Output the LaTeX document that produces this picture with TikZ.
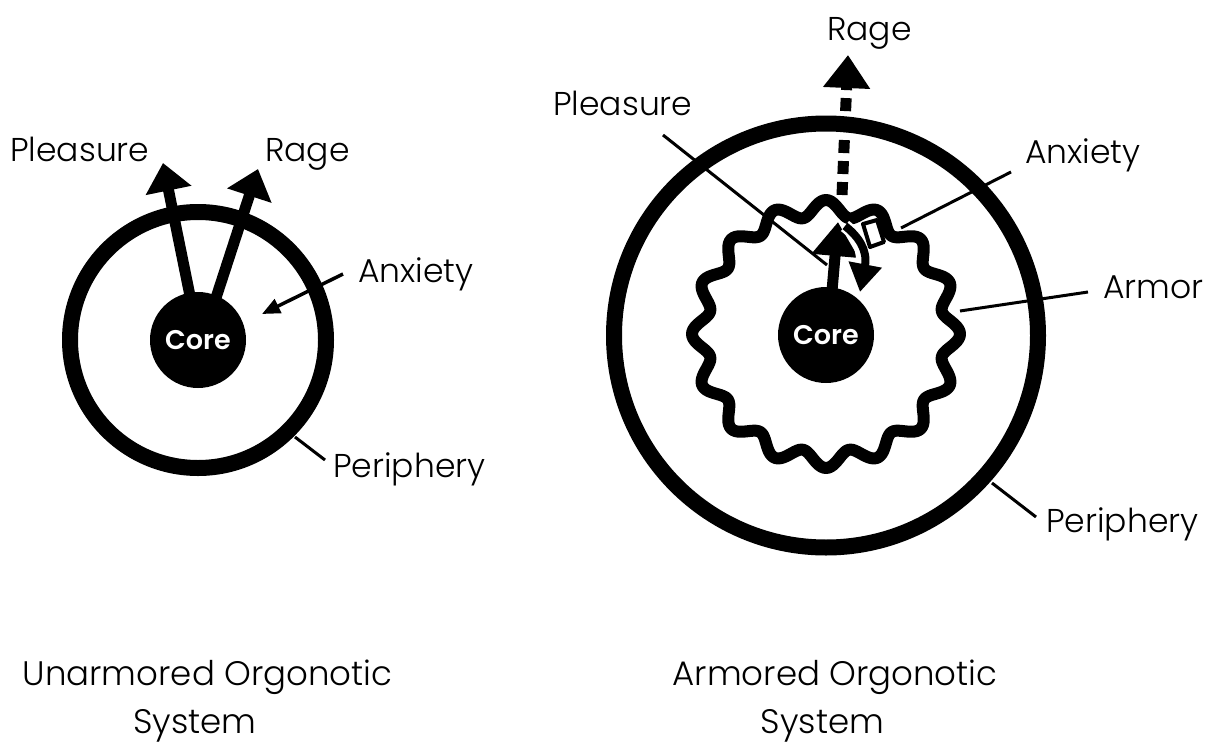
\documentclass[tikz,border=0pt]{standalone}
\usepackage{fontspec}
\setmainfont{Poppins Light}[BoldFont={Poppins SemiBold}]
\usetikzlibrary{arrows.meta,positioning}

\begin{document}
\begin{tikzpicture}[x=1pt, y=-1pt, every node/.style={inner sep=0pt},
  tag/.style={font=\fontsize{33}{38}\selectfont, anchor=base west},
  title/.style={font=\fontsize{34}{38}\selectfont, anchor=base},
  ring/.style={line width=16pt},
  armor/.style={line width=12pt, line join=round},
  core/.style={circle, fill=black, text=white, minimum size=96pt, font=\fontsize{27}{30}\selectfont\bfseries},
  big arrow/.style={line width=11pt, -{Triangle[width=45pt,length=#1]}},
  big arrow/.default=28pt,
  leader/.style={line width=3pt}]
  \useasboundingbox (0,0) rectangle (1218,744);
  % Left picture
  \begin{scope}[shift={(198,340)}]
    % periphery
    \draw[ring] (0,0) circle [radius=128];
    % core
    \node[core] (lcore) at (0,0) {Core};
    % pleasure and rage
    \coordinate (lpleasuretip) at (-35,-177);
    \coordinate (lragetip) at (60,-171);
    \draw[big arrow] ([xshift=-8pt,yshift=-4pt]lcore.north) -- (lpleasuretip);
    \draw[big arrow] ([xshift=18pt,yshift=-6pt]lcore.north) -- (lragetip);
    \node[tag] (lpleasure) at (-188,-179) {Pleasure};
    \node[tag] (lrage) at (67,-179) {Rage};
    % anxiety
    \node[tag] (lanxiety) at (160,-58) {Anxiety};
    \coordinate (lanxietytip) at (64,-26);
    \draw[line width=3.5pt, -{Triangle[width=15pt,length=18pt]}] ([xshift=-15pt,yshift=8pt]lanxiety.base west) -- (lanxietytip);
    % periphery label
    \node[tag] (lperiphery) at (135,137) {Periphery};
    \coordinate (lrim) at (97,97);
    \draw[leader] ([xshift=-8pt,yshift=17pt]lperiphery.base west) -- (lrim);
    % title
    \node[title] (ltitle) at (9.5,345) {Unarmored Orgonotic};
    \node[title] (lsystem) at (-3,393) {System};
  \end{scope}
  % Right picture
  \begin{scope}[shift={(826,335)}]
    % periphery
    \draw[ring] (0,0.5) circle [radius=212];
    % armor
    \draw[armor] plot[domain=0:360, samples=361, variable=\t]
      ({(126+8*cos(16*(\t-90)))*cos(\t)}, {-1-(126+8*cos(16*(\t-90)))*sin(\t)}) -- cycle;
    % core
    \node[core] (rcore) at (0,0) {Core};
    % pleasure
    \coordinate (rpleasuretip) at (12,-113);
    \draw[big arrow=34pt] ([xshift=6pt,yshift=-4pt]rcore.north) -- (rpleasuretip);
    % rage through the armor
    \coordinate (rarmortop) at (16,-140);
    \coordinate (rragetip) at (22,-280);
    \draw[big arrow=33pt, dash pattern=on 13pt off 8pt] (rarmortop) -- (rragetip);
    % anxiety turned back
    \coordinate (rturn) at (19,-109);
    \coordinate (ranxietytip) at (34,-43);
    \draw[line width=8pt, -{Triangle[width=32pt,length=28pt]},
      preaction={draw, white, line width=13pt, arrows=-}]
      (rturn) .. controls (32,-99) and (42,-85) .. (ranxietytip);
    % gate in the armor
    \filldraw[fill=white, draw=black, line width=4pt, line join=round]
      (37,-111) -- (51,-115) -- (58,-93) -- (44,-88) -- cycle;
    % labels
    \node[tag] (rrage) at (1,-295) {Rage};
    \node[tag] (rpleasure) at (-273,-220) {Pleasure};
    \coordinate (rpleasureend) at (1,-70);
    \draw[leader] ([xshift=110pt,yshift=-20pt]rpleasure.base west) -- (rpleasureend);
    \node[tag] (ranxiety) at (199,-172) {Anxiety};
    \coordinate (ranxietyend) at (75,-107);
    \draw[leader] ([xshift=-14pt,yshift=-9pt]ranxiety.base west) -- (ranxietyend);
    \node[tag] (rarmor) at (277,-37) {Armor};
    \coordinate (rarmorend) at (134,-24);
    \draw[leader] ([xshift=-15pt,yshift=6pt]rarmor.base west) -- (rarmorend);
    \node[tag] (rperiphery) at (220,197) {Periphery};
    \coordinate (rrim) at (166,148);
    \draw[leader] ([xshift=-10pt,yshift=15pt]rperiphery.base west) -- (rrim);
    % title
    \node[title] (rtitle) at (9,350) {Armored Orgonotic};
    \node[title] (rsystem) at (-3.5,398) {System};
  \end{scope}
\end{tikzpicture}
\end{document}
